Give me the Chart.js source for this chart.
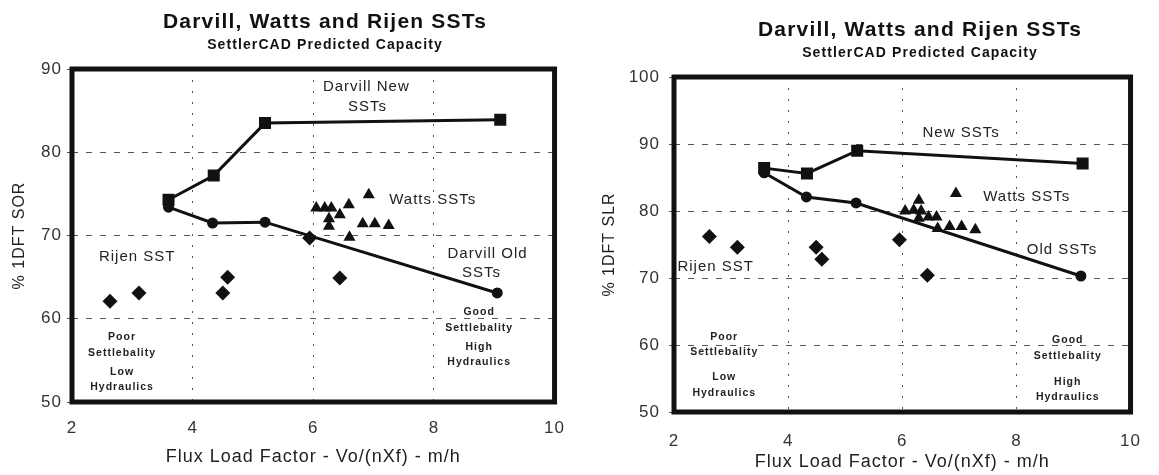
<!DOCTYPE html>
<html><head><meta charset="utf-8">
<script src="https://cdn.jsdelivr.net/npm/chart.js@4.4.1/dist/chart.umd.min.js"></script>
<style>
html,body{margin:0;padding:0;background:#fff;width:1159px;height:475px;overflow:hidden}
.c{position:absolute;top:0;height:475px}
</style></head><body>
<div class="c" style="left:0;width:580px"><canvas id="c1" width="580" height="475"></canvas></div>
<div class="c" style="left:580px;width:579px"><canvas id="c2" width="579" height="475"></canvas></div>
<script>
// ---------- data ----------
const xTicks = [2, 4, 6, 8, 10];
const sorTicks = [50, 60, 70, 80, 90];
const slrTicks = [50, 60, 70, 80, 90, 100];

const chartTitle = "Darvill, Watts and Rijen SSTs";
const chartSubtitle = "SettlerCAD Predicted Capacity";
const xTitle = "Flux Load Factor - Vo/(nXf) - m/h";
const sorTitle = "% 1DFT SOR";
const slrTitle = "% 1DFT SLR";

// Left: SOR
const sorNewX = [3.6, 4.35, 5.2, 9.1];
const sorNewY = [74.3, 77.2, 83.5, 83.9];
const sorOldX = [3.6, 4.33, 5.2, 9.05];
const sorOldY = [73.4, 71.5, 71.6, 63.1];
const sorWattsX = [6.05, 6.19, 6.30, 6.44, 6.59, 6.26, 6.26, 6.92, 6.82, 7.02, 7.25, 6.60];
const sorWattsY = [73.3, 73.3, 73.3, 72.5, 73.7, 72.0, 71.1, 74.9, 71.4, 71.4, 71.2, 69.8];
const sorRijenX = [2.63, 3.11, 4.50, 4.58, 5.94, 6.44];
const sorRijenY = [62.1, 63.1, 63.1, 65.0, 69.7, 64.9];

// Right: SLR
const slrNewX = [3.58, 4.33, 5.21, 9.16];
const slrNewY = [86.4, 85.6, 89.0, 87.1];
const slrOldX = [3.58, 4.32, 5.19, 9.13];
const slrOldY = [85.7, 82.1, 81.2, 70.3];
const slrWattsX = [6.05, 6.20, 6.29, 6.33, 6.29, 6.46, 6.60, 6.62, 6.83, 7.04, 7.28, 6.94];
const slrWattsY = [80.0, 80.1, 81.6, 80.0, 78.9, 79.1, 79.1, 77.4, 77.7, 77.7, 77.2, 82.6];
const slrRijenX = [2.62, 3.11, 4.49, 4.59, 5.95, 6.44];
const slrRijenY = [76.2, 74.6, 74.6, 72.8, 75.7, 70.4];

// annotation labels: [text, x, y, style]
const sorNotes = [
  ["Darvill New", 6.88, 87.8, "big"], ["SSTs", 6.9, 85.4, "big"],
  ["Watts SSTs", 7.98, 74.3, "big"],
  ["Darvill Old", 8.89, 67.8, "big"], ["SSTs", 8.79, 65.5, "big"],
  ["Rijen SST", 3.08, 67.4, "big"],
  ["Poor", 2.83, 57.8, "small"], ["Settlebality", 2.83, 55.9, "small"],
  ["Low", 2.83, 53.6, "small"], ["Hydraulics", 2.83, 51.8, "small"],
  ["Good", 8.75, 60.8, "small"], ["Settlebality", 8.75, 58.9, "small"],
  ["High", 8.75, 56.6, "small"], ["Hydraulics", 8.75, 54.8, "small"]
];
const slrNotes = [
  ["New SSTs", 7.03, 91.6, "big"],
  ["Watts SSTs", 8.18, 82.1, "big"],
  ["Old SSTs", 8.80, 74.2, "big"],
  ["Rijen SST", 2.73, 71.6, "big"],
  ["Poor", 2.88, 61.2, "small"], ["Settlebality", 2.88, 59.0, "small"],
  ["Low", 2.88, 55.2, "small"], ["Hydraulics", 2.88, 52.8, "small"],
  ["Good", 8.90, 60.7, "small"], ["Settlebality", 8.90, 58.4, "small"],
  ["High", 8.90, 54.5, "small"], ["Hydraulics", 8.90, 52.2, "small"]
];

const FONT = "'Liberation Sans', Arial, sans-serif";
const INK = '#111';

function pts(xs, ys) { return xs.map((x, i) => ({x: x, y: ys[i]})); }

function makeChart(id, cfg) {
  const decor = {
    id: 'decor',
    beforeDraw(chart) {
      chart.ctx.letterSpacing = '1px';
    },
    beforeDatasetsDraw(chart) {
      const {ctx, chartArea: a} = chart;
      ctx.save();
      ctx.strokeStyle = INK;
      ctx.lineWidth = 5;
      ctx.strokeRect(a.left, a.top, a.right - a.left, a.bottom - a.top);
      ctx.restore();
    },
    afterDraw(chart) {
      const {ctx, scales} = chart;
      ctx.save();
      ctx.fillStyle = INK;
      ctx.textAlign = 'center';
      ctx.textBaseline = 'middle';
      ctx.letterSpacing = '1.2px';
      ctx.font = "bold 21px " + FONT;
      ctx.fillText(chartTitle, cfg.titleX, cfg.titleY);
      ctx.letterSpacing = '1.1px';
      ctx.font = "bold 14px " + FONT;
      ctx.fillText(chartSubtitle, cfg.titleX, cfg.titleY + 23);
      ctx.letterSpacing = '1px';
      cfg.notes.forEach(n => {
        ctx.font = n[3] === 'big' ? "15px " + FONT : "bold 10.5px " + FONT;
        ctx.fillStyle = '#222';
        ctx.fillText(n[0], scales.x.getPixelForValue(n[1]), scales.y.getPixelForValue(n[2]));
      });
      ctx.restore();
    }
  };
  return new Chart(document.getElementById(id), {
    type: 'scatter',
    data: {
      datasets: [
        {label: 'Darvill New SSTs', data: pts(cfg.newX, cfg.newY), showLine: true,
         borderColor: INK, backgroundColor: INK, borderWidth: 3,
         pointStyle: 'rect', pointRadius: 8.5, pointBorderWidth: 0},
        {label: 'Darvill Old SSTs', data: pts(cfg.oldX, cfg.oldY), showLine: true,
         borderColor: INK, backgroundColor: INK, borderWidth: 3,
         pointStyle: 'circle', pointRadius: 5.5, pointBorderWidth: 0},
        {label: 'Watts SSTs', data: pts(cfg.wattsX, cfg.wattsY), showLine: false,
         borderColor: INK, backgroundColor: INK,
         pointStyle: 'triangle', pointRadius: 7, pointBorderWidth: 0},
        {label: 'Rijen SST', data: pts(cfg.rijenX, cfg.rijenY), showLine: false,
         borderColor: INK, backgroundColor: INK,
         pointStyle: 'rectRot', pointRadius: 7.5, pointBorderWidth: 0}
      ]
    },
    options: {
      responsive: false,
      animation: false,
      devicePixelRatio: 1,
      layout: {padding: {top: cfg.top, right: cfg.right, bottom: 0, left: 0}},
      plugins: {legend: {display: false}, tooltip: {enabled: false}, title: {display: false}},
      scales: {
        x: {
          type: 'linear', min: 2, max: 10,
          afterBuildTicks(s) { s.ticks = xTicks.map(v => ({value: v})); },
          afterFit(s) { s.height = cfg.xh; },
          ticks: {font: {family: FONT, size: 17}, color: '#333', padding: cfg.xpad, maxRotation: 0},
          grid: {color: '#555', lineWidth: 1, drawTicks: false},
          border: {display: false, dash: [2, 9]},
          title: {display: true, text: xTitle, font: {family: FONT, size: 18}, color: '#222',
                  padding: {top: 0, bottom: cfg.xtpad}}
        },
        y: {
          type: 'linear', min: cfg.ymin, max: cfg.ymax,
          afterBuildTicks(s) { s.ticks = cfg.yTicks.map(v => ({value: v})); },
          afterFit(s) { s.width = cfg.yw; },
          ticks: {font: {family: FONT, size: 17}, color: '#333', padding: cfg.ypad},
          grid: {color: '#555', lineWidth: 1, drawTicks: true, tickLength: 5},
          border: {display: false, dash: [6, 8]},
          title: {display: true, text: cfg.yTitle, font: {family: FONT, size: 16}, color: '#222',
                  padding: {top: cfg.ytpad, bottom: 0}}
        }
      }
    },
    plugins: [decor]
  });
}

makeChart('c1', {
  newX: sorNewX, newY: sorNewY, oldX: sorOldX, oldY: sorOldY,
  wattsX: sorWattsX, wattsY: sorWattsY, rijenX: sorRijenX, rijenY: sorRijenY,
  notes: sorNotes, yTicks: sorTicks, ymin: 50, ymax: 90, yTitle: sorTitle,
  top: 69, right: 25, xh: 73, yw: 72, xpad: 16, xtpad: 7, ypad: 5, ytpad: 10,
  titleX: 325, titleY: 22
});
makeChart('c2', {
  newX: slrNewX, newY: slrNewY, oldX: slrOldX, oldY: slrOldY,
  wattsX: slrWattsX, wattsY: slrWattsY, rijenX: slrRijenX, rijenY: slrRijenY,
  notes: slrNotes, yTicks: slrTicks, ymin: 50, ymax: 100, yTitle: slrTitle,
  top: 77, right: 11, xh: 63, yw: 94, xpad: 19, xtpad: 2, ypad: 9, ytpad: 20,
  titleX: 340, titleY: 30
});
</script>
</body></html>
